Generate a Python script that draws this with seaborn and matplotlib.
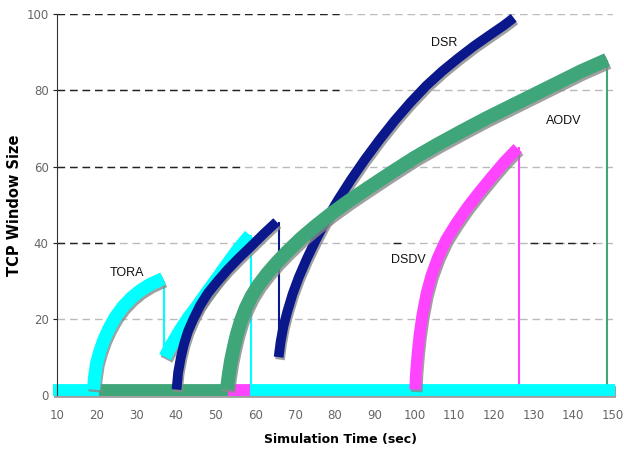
import matplotlib
matplotlib.use("Agg")
import matplotlib.pyplot as plt
import matplotlib.patheffects as pe
import seaborn as sns

# datos
tora_x1 = [19.2, 19.5, 20.0, 20.8, 21.8, 23.1, 24.7, 26.6, 28.7, 30.9, 33.5, 36.7]
tora_y1 = [1.5, 5.0, 8.5, 11.5, 14.5, 17.5, 20.5, 23.2, 25.5, 27.4, 29.1, 30.6]
tora_x2 = [37.2, 38.5, 41.0, 43.0, 45.2, 47.3, 49.4, 51.5, 53.6, 55.7, 58.6]
tora_y2 = [10.0, 12.6, 17.0, 20.2, 23.2, 26.3, 29.3, 32.4, 35.4, 38.4, 42.0]

dsr_x1 = [40.1, 40.5, 41.2, 42.0, 43.0, 44.3, 46.0, 48.0, 50.5, 53.0, 56.0, 59.0, 62.0, 65.3]
dsr_y1 = [1.5, 6.0, 10.0, 13.5, 16.8, 19.9, 23.5, 26.8, 30.0, 33.0, 36.2, 39.2, 42.3, 45.5]
dsr_x2 = [65.8, 66.3, 67.0, 68.0, 69.3, 70.9, 72.9, 75.2, 77.8, 80.8, 84.0, 87.5, 91.2, 95.0,
          99.0, 103.0, 107.0, 111.0, 115.0, 119.0, 122.5, 125.0]
dsr_y2 = [10.0, 14.0, 18.0, 22.0, 26.5, 31.0, 35.8, 40.8, 46.0, 51.3, 56.5, 61.8, 67.0, 72.0,
          76.8, 81.2, 85.0, 88.4, 91.6, 94.5, 97.0, 99.0]

aodv_x = [52.8, 53.2, 53.8, 54.5, 55.3, 56.3, 57.5, 59.0, 60.8, 63.0, 65.5, 68.3, 71.5, 75.0,
          79.0, 83.5, 88.5, 94.0, 100.0, 106.0, 112.0, 118.0, 124.0, 130.0, 136.0, 142.0, 148.5]
aodv_y = [1.5, 5.0, 9.0, 12.5, 16.0, 19.5, 22.8, 26.0, 29.0, 32.0, 35.0, 38.0, 41.2, 44.3,
          47.6, 51.0, 54.5, 58.3, 62.3, 65.9, 69.3, 72.6, 75.7, 78.8, 81.9, 85.0, 88.0]

dsdv_x = [100.2, 100.4, 100.8, 101.3, 102.0, 103.0, 104.3, 106.0, 108.0, 110.5, 113.5, 116.5,
          119.5, 122.5, 126.0]
dsdv_y = [1.5, 6.0, 11.0, 16.0, 21.0, 26.5, 31.5, 36.3, 40.8, 45.0, 49.5, 53.5,
          57.3, 61.0, 64.8]

# tramos planos (ventana ~1) de cada protocolo
base_tramos = [
    ("TORA", 9.0, 20.5),
    ("AODV", 20.5, 53.0),
    ("DSDV", 53.0, 58.7),
    ("TORA", 58.7, 150.5),
]
base_y = 1.5

# caidas verticales (x, y desde, y hasta)
caidas = [
    ("TORA", 36.9, 30.0, 10.0),
    ("DSR", 65.8, 45.5, 10.0),
    ("TORA", 58.9, 42.0, 1.5),
    ("DSDV", 126.4, 65.0, 1.5),
    ("AODV", 148.6, 88.0, 1.5),
]

colores = {"TORA": "#00FFFF", "DSR": "#0A188C", "AODV": "#3EA678", "DSDV": "#FF44FF"}

etiquetas = {"DSR": (107.5, 92.5), "AODV": (137.5, 72), "DSDV": (98.5, 35.5), "TORA": (27.5, 32)}

xticks = list(range(10, 151, 10))
yticks = [0, 20, 40, 60, 80, 100]

sombra = [pe.SimpleLineShadow(offset=(1.0, -1.8), shadow_color="#888888", alpha=0.8), pe.Normal()]

fig = plt.figure(figsize=(6.24, 4.49), dpi=100)
ax = fig.add_axes([57 / 624, 1 - 401 / 449, 556 / 624, 387 / 449])

# grilla: gris de fondo y tramos negros
for yv in yticks[1:]:
    ax.hlines(yv, 10, 150, colors="#bbbbbb", linestyles=(0, (5.5, 3.5)), lw=1, zorder=0)
negros = [(100, 10, 81), (80, 10, 81), (60, 10, 56), (40, 10, 25), (40, 94.6, 97.5), (40, 129, 145.5)]
for yv, x0, x1 in negros:
    ax.hlines(yv, x0, x1, colors="#222222", linestyles=(0, (5.5, 3.5)), lw=1, zorder=0.5)


def curva(x, y, c, lw, z):
    sns.lineplot(x=x, y=y, color=c, linewidth=lw, sort=False, estimator=None, ax=ax,
                 path_effects=sombra, solid_capstyle="butt", solid_joinstyle="round", zorder=z)


for prot, x0, x1 in base_tramos:
    curva([x0, x1], [base_y, base_y], colores[prot], 8.5, 2)
    ax.lines[-1].set_clip_on(False)

for prot, xv, y0, y1 in caidas:
    ax.vlines(xv, y1, y0, colors=colores[prot], lw=1.5, zorder=1.5)

curva(tora_x1, tora_y1, colores["TORA"], 9.5, 3)
curva(tora_x2, tora_y2, colores["TORA"], 9.5, 3)
curva(dsr_x1, dsr_y1, colores["DSR"], 7, 4)
curva(dsr_x2, dsr_y2, colores["DSR"], 7, 4)
curva(aodv_x, aodv_y, colores["AODV"], 10, 5)
curva(dsdv_x, dsdv_y, colores["DSDV"], 8.5, 5)

for nombre, (xv, yv) in etiquetas.items():
    ax.text(xv, yv, nombre, fontsize=9, family="Liberation Sans", ha="center", va="center", color="#111111")

ax.set_xlim(10, 150)
ax.set_ylim(-1.5, 100)
ax.set_xticks(xticks)
ax.set_yticks(yticks)
ax.tick_params(axis="x", length=0, labelsize=8.5, colors="#666666", pad=6)
ax.tick_params(axis="y", length=3, labelsize=8.5, colors="#666666", pad=3)
ax.tick_params(axis="y", color="#222222")
for s in ["top", "right", "bottom"]:
    ax.spines[s].set_visible(False)
ax.spines["left"].set_color("#333333")
ax.spines["left"].set_bounds(0, 100)
ax.set_xlabel("Simulation Time (sec)", fontsize=9, fontweight="bold", va="center")
ax.set_ylabel("TCP Window Size", fontsize=10.5, fontweight="bold", va="center")
ax.xaxis.set_label_coords((340 - 57) / 556, (401 - 440) / 387)
ax.yaxis.set_label_coords((15 - 57) / 556, (401 - 205) / 387)

fig.savefig("out.png", dpi=100)
